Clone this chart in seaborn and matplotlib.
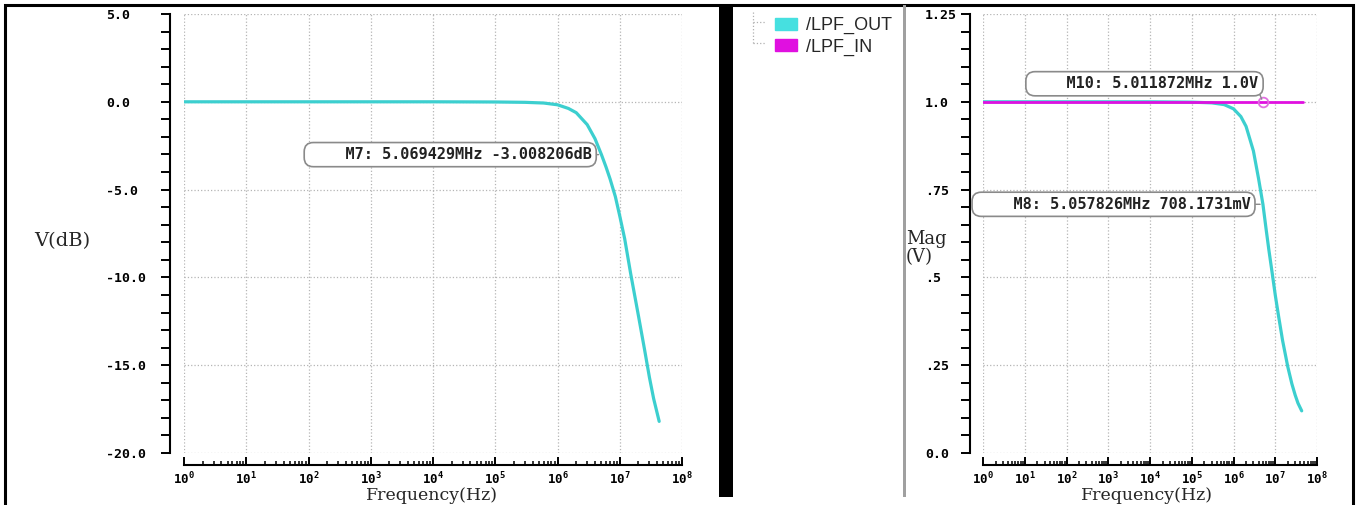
import matplotlib
matplotlib.use("Agg")
import matplotlib.pyplot as plt
import seaborn as sns
import pandas as pd
from matplotlib.ticker import MultipleLocator, LogLocator, NullFormatter
from matplotlib.patches import Rectangle, Patch
from matplotlib.lines import Line2D

# values
freq = [1, 10, 100, 1e3, 1e4, 1e5, 3e5, 6e5, 1e6, 1.5e6, 2e6, 3e6, 4e6, 5.07e6,
        6e6, 7e6, 8.5e6, 1e7, 1.2e7, 1.5e7, 2e7, 2.5e7, 3e7, 3.5e7, 4.3e7]
out_db = [0, 0, 0, 0, 0, -0.01, -0.03, -0.07, -0.17, -0.38, -0.62, -1.3, -2.1, -3.0,
          -3.7, -4.4, -5.4, -6.5, -7.8, -9.8, -12.2, -14.1, -15.7, -16.9, -18.2]
out_mag = [1.0, 1.0, 1.0, 1.0, 1.0, 0.999, 0.997, 0.992, 0.98, 0.958, 0.93, 0.86, 0.78, 0.708,
           0.64, 0.58, 0.51, 0.45, 0.39, 0.32, 0.245, 0.197, 0.165, 0.142, 0.12]
in_freq = [1, 4.5e7]
in_mag = [1.0, 1.0]

decades = [1, 10, 100, 1e3, 1e4, 1e5, 1e6, 1e7, 1e8]
db_ticks = [5, 0, -5, -10, -15, -20]
db_labels = ["5.0", "0.0", "-5.0", "-10.0", "-15.0", "-20.0"]
mag_ticks = [1.25, 1.0, 0.75, 0.5, 0.25, 0.0]
mag_labels = ["1.25", "1.0", ".75", ".5", ".25", "0.0"]

markers_db = [("M7", 5.069429e6, -3.008206, "5.069429MHz -3.008206dB")]
markers_mag = [("M10", 5.011872e6, 1.0, "5.011872MHz 1.0V"),
               ("M8", 5.057826e6, 0.7081731, "5.057826MHz 708.1731mV")]

CYAN = "#3ccfcf"
MAGENTA = "#e010e0"
MONO = "DejaVu Sans Mono"
SERIF = "DejaVu Serif"

sns.set_style("white")
plt.rcParams["font.family"] = [MONO, "DejaVu Sans"]
plt.rcParams["mathtext.default"] = "regular"

W, H = 1359, 505
fig = plt.figure(figsize=(W / 100, H / 100), dpi=100)


def pos(x0, x1, ytop, ybot):
    return [x0 / W, 1 - ybot / H, (x1 - x0) / W, (ybot - ytop) / H]


def style_axes(ax, ticks, labels, minor, ylim, left_off, label_pad):
    ax.set_xscale("log")
    ax.set_xlim(1, 1e8)
    ax.set_ylim(*ylim)
    ax.set_xticks(decades)
    ax.xaxis.set_minor_locator(LogLocator(base=10, subs=range(2, 10), numticks=100))
    ax.xaxis.set_minor_formatter(NullFormatter())
    ax.set_yticks(ticks)
    ax.set_yticklabels(labels)
    ax.yaxis.set_minor_locator(MultipleLocator(minor))
    sns.despine(ax=ax, offset={"left": left_off, "bottom": 8.6})
    for s in ("left", "bottom"):
        ax.spines[s].set_linewidth(1.5)
        ax.spines[s].set_color("black")
    ax.tick_params(which="both", left=True, bottom=True, top=False, right=False)
    ax.tick_params(axis="y", which="both", direction="out", length=6.5, width=1.4,
                   pad=label_pad, labelsize=9.5, colors="black")
    ax.tick_params(axis="x", which="major", direction="in", length=5.5, width=1.4,
                   pad=4, labelsize=9, colors="black")
    ax.tick_params(axis="x", which="minor", direction="in", length=3, width=1.1,
                   colors="black")
    for t in ax.get_yticklabels():
        t.set_horizontalalignment("left")
        t.set_fontweight("bold")
    for t in ax.get_xticklabels():
        t.set_fontweight("bold")
    ax.grid(True, which="major", linestyle=":", color="#b5b5b5", linewidth=0.9)
    ax.set_xlabel("")
    ax.set_ylabel("")


def marker_box(ax, name, x, y, text, dx, dy, pad_spaces, relpos=(1.0, 0.5)):
    ax.annotate(pad_spaces + name + ": " + text, xy=(x, y), xytext=(dx, dy),
                textcoords="offset points", ha="right", va="center",
                fontsize=11, fontweight="bold", family=MONO, color="#222222",
                bbox=dict(boxstyle="round,pad=0.3,rounding_size=0.6", fc="white",
                          ec="#8a8a8a", lw=1.2),
                arrowprops=dict(arrowstyle="-", color="#8a8a8a", lw=1.0,
                                shrinkA=0, shrinkB=2, relpos=relpos))


# left: dB
ax1 = fig.add_axes(pos(184, 682, 14, 453))
df_out = pd.DataFrame({"freq": freq, "db": out_db, "mag": out_mag})
sns.lineplot(data=df_out, x="freq", y="db", ax=ax1, color=CYAN, linewidth=2.3)
style_axes(ax1, db_ticks, db_labels, 1, (-20, 5), 10.1, 39.6)
for name, x, y, txt in markers_db:
    marker_box(ax1, name, x, y, txt, -7, 0, "    ")

# right: magnitude
ax2 = fig.add_axes(pos(983, 1317, 14, 453))
df_in = pd.DataFrame({"freq": in_freq, "mag": in_mag})
sns.lineplot(data=df_out, x="freq", y="mag", ax=ax2, color=CYAN, linewidth=2.3)
sns.lineplot(data=df_in, x="freq", y="mag", ax=ax2, color=MAGENTA, linewidth=2.0)
style_axes(ax2, mag_ticks, mag_labels, 0.05, (0, 1.25), 9.4, 26)
m10 = markers_mag[0]
ax2.plot([m10[1]], [m10[2]], "o", mfc="none", mec="#e070e0", ms=7, mew=1.3)
marker_box(ax2, m10[0], m10[1], m10[2], m10[3], -3, 13, "    ", relpos=(1.0, 0.0))
m8 = markers_mag[1]
marker_box(ax2, m8[0], m8[1], m8[2], m8[3], -9, 0, "    ")

# axis labels
fig.text(62 / W, 1 - 241 / H, "V(dB)", family=SERIF, fontsize=14, ha="center", va="center")
fig.text(906 / W, 1 - 248 / H, "Mag\n(V)", family=SERIF, fontsize=13, ha="left",
         va="center", linespacing=1.0)
fig.text(432 / W, 1 - 496 / H, "Frequency(Hz)", family=SERIF, fontsize=12.5,
         ha="center", va="center")
fig.text(1147 / W, 1 - 496 / H, "Frequency(Hz)", family=SERIF, fontsize=12.5,
         ha="center", va="center")

# legend with tree lines
handles = [Patch(facecolor="#46e0e0", edgecolor="#46e0e0"),
           Patch(facecolor=MAGENTA, edgecolor=MAGENTA)]
fig.legend(handles, ["/LPF_OUT", "/LPF_IN"], loc="upper left",
           bbox_to_anchor=(766 / W, 1 - 8 / H), frameon=False, borderpad=0,
           handlelength=1.2, handleheight=0.65, handletextpad=0.5, labelspacing=0.25,
           prop={"family": "Liberation Sans", "size": 13})
tree = dict(color="#b0b0b0", lw=0.9, linestyle=":")
fig.add_artist(Line2D([753 / W, 753 / W], [1 - 12 / H, 1 - 43 / H], **tree))
fig.add_artist(Line2D([753 / W, 765 / W], [1 - 22 / H, 1 - 22 / H], **tree))
fig.add_artist(Line2D([753 / W, 765 / W], [1 - 43 / H, 1 - 43 / H], **tree))

# window frame, divider bar and separator
fig.add_artist(Rectangle((5 / W, -0.05), (1353 - 5) / W, 1.05 - 5 / H, fill=False,
                         ec="black", lw=2.2, transform=fig.transFigure))
fig.add_artist(Rectangle((719 / W, 1 - 497 / H), 14 / W, (497 - 5) / H, fc="black",
                         ec="none", transform=fig.transFigure))
fig.add_artist(Rectangle((903 / W, 1 - 497 / H), 3 / W, (497 - 5) / H, fc="#a0a0a0",
                         ec="none", transform=fig.transFigure))

fig.savefig("out.png", dpi=100)
plt.close(fig)
